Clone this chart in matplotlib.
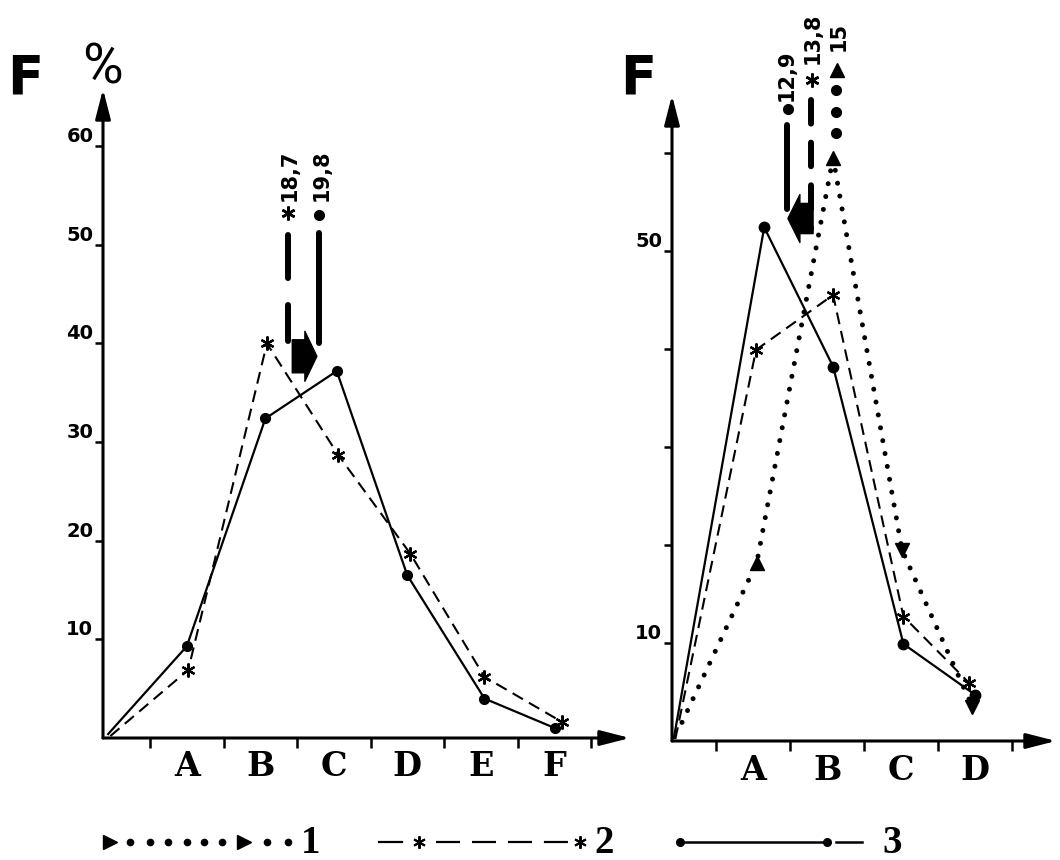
import matplotlib
matplotlib.use("Agg")
import matplotlib.pyplot as plt

# ---- values (x in category units, A = 1) ----
cats_left = ["A", "B", "C", "D", "E", "F"]
cats_right = ["A", "B", "C", "D"]

# left panel, first point of every line is the origin
left_x3 = [-0.07, 1.0, 2.07, 3.04, 4.0, 5.05, 6.01]
left_y3 = [0.4, 9.3, 32.4, 37.2, 16.5, 4.0, 1.0]
left_x2 = [-0.04, 1.02, 2.09, 3.06, 4.04, 5.05, 6.11]
left_y2 = [0.2, 6.9, 40.0, 28.7, 18.7, 6.2, 1.6]

# right panel
right_x1 = [0.04, 1.05, 2.08, 3.01, 3.96]
right_y1 = [1.9, 18.2, 59.5, 19.5, 3.5]
right_x2 = [-0.05, 1.04, 2.08, 3.03, 3.92]
right_y2 = [0.2, 39.9, 45.5, 12.7, 5.9]
right_x3 = [-0.07, 1.15, 2.08, 3.03, 4.0]
right_y3 = [0.3, 52.4, 38.2, 9.9, 4.7]

left_yticks = [10, 20, 30, 40, 50, 60]
left_ylabels = ["10", "20", "30", "40", "50", "60"]
right_yticks = [10, 20, 30, 40, 50, 60]
right_ylabels = ["10", "", "", "", "50", ""]

means_left = ["18,7", "19,8"]
means_right = ["12,9", "13,8", "15"]

plt.rcParams["lines.scale_dashes"] = False

W, H = 1060, 860
fig = plt.figure(figsize=(W / 100, H / 100), dpi=100)
fig.patch.set_facecolor("white")

# legend strip drawn in pixel coordinates
lax = fig.add_axes([0, 0, 1, 1])
lax.set_xlim(0, W)
lax.set_ylim(H, 0)
lax.axis("off")


def place(x0, x1, ytop, ybot):
    return fig.add_axes([x0 / W, 1 - ybot / H, (x1 - x0) / W, (ybot - ytop) / H])


SOLID = dict(color="k", lw=1.6, ls="-")
DASHED = dict(color="k", lw=1.5, ls=(0, (8.6, 5.0)))
DOTTED = dict(color="k", lw=3.6, ls=(0, (0.01, 9.4)), dash_capstyle="round")
STAR = (6, 2, 0)

tick_font = dict(family="DejaVu Sans", weight="bold", size=14)
cat_font = dict(family="DejaVu Serif", weight="bold", size=24)
num_font = dict(family="DejaVu Sans", weight="bold", size=15)


def frame(ax, cats, yticks, ylabels):
    for s in ax.spines.values():
        s.set_visible(False)
    ax.patch.set_alpha(0)
    kw = dict(arrowstyle="-|>,head_length=0.9,head_width=0.23", lw=2.2,
              color="k", mutation_scale=20, shrinkA=0, shrinkB=0)
    ax.annotate("", xy=(1, 0), xytext=(0, 0), xycoords="axes fraction", arrowprops=kw)
    ax.annotate("", xy=(0, 1), xytext=(0, 0), xycoords="axes fraction", arrowprops=kw)
    n = len(cats)
    ax.set_xticks([i + 0.5 for i in range(n + 1)])
    ax.set_xticklabels([])
    ax.set_xticks(range(1, n + 1), minor=True)
    ax.set_xticklabels(cats, minor=True, fontdict=cat_font)
    ax.tick_params(axis="x", which="major", direction="out", length=7, width=1.8)
    ax.tick_params(axis="x", which="minor", length=0, pad=9)
    ax.set_yticks(yticks)
    ax.set_yticklabels(ylabels, fontdict=tick_font)
    ax.tick_params(axis="y", direction="out", length=6, width=1.8, pad=1)
    for lab in ax.get_yticklabels():
        lab.set_va("bottom")


# ---------------- left panel ----------------
axL = place(103, 630, 89, 738)
axL.set_xlim(-0.14, 7.03)
axL.set_ylim(0, 65.8)
frame(axL, cats_left, left_yticks, left_ylabels)

axL.plot(left_x3, left_y3, **SOLID)
axL.plot(left_x3[1:], left_y3[1:], "o", color="k", ms=7)
axL.plot(left_x2, left_y2, **DASHED)
axL.plot(left_x2[1:], left_y2[1:], marker=STAR, ls="none", color="k", ms=10, mew=1.6)

# mean markers
axL.plot([2.378, 2.378], [51.0, 40.3], color="k", lw=4.3, ls=(0, (31, 19.4)),
         dash_capstyle="round", solid_capstyle="round")
axL.plot([2.80, 2.80], [51.2, 40.0], color="k", lw=4.3, solid_capstyle="round")
axL.plot(2.378, 53.2, marker=STAR, color="k", ms=10, mew=1.8, clip_on=False)
axL.plot(2.80, 53.0, "o", color="k", ms=7, clip_on=False)
axL.text(2.40, 54.4, means_left[0], rotation=90, ha="center", va="bottom", fontdict=num_font)
axL.text(2.83, 54.4, means_left[1], rotation=90, ha="center", va="bottom", fontdict=num_font)
axL.annotate("", xy=(2.77, 38.7), xytext=(2.435, 38.7),
             arrowprops=dict(arrowstyle="simple,head_length=0.24,head_width=1.0,tail_width=0.66",
                             fc="k", ec="k", mutation_scale=36, shrinkA=0, shrinkB=0))

# ---------------- right panel ----------------
axR = place(672, 1056, 95, 741)
axR.set_xlim(-0.095, 5.09)
axR.set_ylim(0, 65.9)
frame(axR, cats_right, right_yticks, right_ylabels)

axR.plot(right_x1, right_y1, **DOTTED)
tri = ["^", "^", "v", "v"]
for xi, yi, m in zip(right_x1[1:], right_y1[1:], tri):
    axR.plot(xi, yi, marker=m, color="k", ms=10)
axR.plot(right_x2, right_y2, **DASHED)
axR.plot(right_x2[1:], right_y2[1:], marker=STAR, ls="none", color="k", ms=10, mew=1.6)
axR.plot(right_x3, right_y3, **SOLID)
axR.plot(right_x3[1:], right_y3[1:], "o", color="k", ms=7.5)

axR.plot([1.46, 1.46], [62.8, 54.3], color="k", lw=4.3, solid_capstyle="round")
axR.plot(1.47, 64.5, "o", color="k", ms=7, clip_on=False)
axR.plot([1.78, 1.78], [65.4, 52.2], color="k", lw=4.3, ls=(0, (17, 13.7)),
         dash_capstyle="round", clip_on=False)
axR.plot(1.80, 67.4, marker=STAR, color="k", ms=10, mew=1.8, clip_on=False)
axR.plot([2.12, 2.12, 2.12], [62.0, 64.2, 66.4], "o", color="k", ms=7, clip_on=False)
axR.plot(2.135, 68.5, "^", color="k", ms=10, clip_on=False)
axR.text(1.46, 65.3, means_right[0], rotation=90, ha="center", va="bottom", fontdict=num_font)
axR.text(1.80, 69.1, means_right[1], rotation=90, ha="center", va="bottom", fontdict=num_font)
axR.text(2.15, 70.4, means_right[2], rotation=90, ha="center", va="bottom", fontdict=num_font)
axR.annotate("", xy=(1.47, 53.3), xytext=(1.81, 53.3),
             arrowprops=dict(arrowstyle="simple,head_length=0.25,head_width=1.0,tail_width=0.63",
                             fc="k", ec="k", mutation_scale=34.5, shrinkA=0, shrinkB=0))

# panel letters
fig.text(7 / W, 1 - 93 / H, "F", fontsize=38, fontweight="bold", family="DejaVu Sans", va="baseline")
fig.text(620 / W, 1 - 93 / H, "F", fontsize=38, fontweight="bold", family="DejaVu Sans", va="baseline")
fig.text(82 / W, 1 - 83 / H, "%", fontsize=40, family=["Roboto", "DejaVu Sans"], va="baseline")

# ---------------- legend ----------------
ly = 842
leg_font = dict(family="Liberation Serif", weight="bold", size=28)
lax.plot([110, 244], [ly, ly], ">", color="k", ms=10)
lax.plot([130, 150, 168, 187, 204, 222, 267, 288], [ly] * 8, "o", color="k", ms=4.5)
lax.text(311, 853, "1", ha="center", va="baseline", fontdict=leg_font)

lax.plot([379, 402], [ly, ly], color="k", lw=1.6)
lax.plot([436, 570], [ly, ly], color="k", lw=1.6, ls=(0, (17.3, 8.6)))
lax.plot([419, 580], [ly, ly], marker=STAR, ls="none", color="k", ms=9, mew=1.4)
lax.text(604, 853, "2", ha="center", va="baseline", fontdict=leg_font)

lax.plot([680, 827], [ly, ly], color="k", lw=1.8, marker="o", ms=5.5)
lax.plot([836, 862], [ly, ly], color="k", lw=1.8)
lax.text(892, 853, "3", ha="center", va="baseline", fontdict=leg_font)

fig.savefig("out.png", dpi=100, facecolor="white")
